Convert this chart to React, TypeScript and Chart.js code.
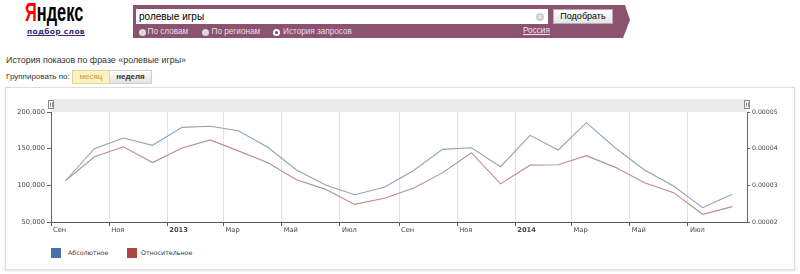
import React, { useEffect, useRef } from "react";
import { Chart, registerables } from "chart.js";

Chart.register(...registerables);

// ---- data ----
const months = [
  "2012-09", "2012-10", "2012-11", "2012-12",
  "2013-01", "2013-02", "2013-03", "2013-04", "2013-05", "2013-06", "2013-07", "2013-08",
  "2013-09", "2013-10", "2013-11", "2013-12",
  "2014-01", "2014-02", "2014-03", "2014-04", "2014-05", "2014-06", "2014-07", "2014-08",
];
const absoluteValues = [
  105900, 150000, 164500, 154600,
  179100, 180500, 174500, 152300, 120900, 100500, 87200, 97300,
  120000, 149100, 151300, 125400,
  168200, 148200, 185400, 150900, 120900, 99100, 69500, 87800,
];
const relativeValues = [
  3.12e-5, 3.78e-5, 4.05e-5, 3.62e-5,
  4.02e-5, 4.24e-5, 3.94e-5, 3.62e-5, 3.15e-5, 2.89e-5, 2.48e-5, 2.65e-5,
  2.92e-5, 3.34e-5, 3.89e-5, 3.04e-5,
  3.55e-5, 3.56e-5, 3.81e-5, 3.49e-5, 3.07e-5, 2.80e-5, 2.21e-5, 2.42e-5,
];
const tickMonths = [
  "2012-09", "2012-11", "2013-01", "2013-03", "2013-05", "2013-07",
  "2013-09", "2013-11", "2014-01", "2014-03", "2014-05", "2014-07",
];
const tickLabels = ["Сен", "Ноя", "2013", "Мар", "Май", "Июл", "Сен", "Ноя", "2014", "Мар", "Май", "Июл"];
const rangeStart = "2012-09";
const rangeEnd = "2014-09";
const leftTicks = [50000, 100000, 150000, 200000];
const rightTicks = [0.00002, 0.00003, 0.00004, 0.00005];
const seriesNames = ["Абсолютное", "Относительное"];

const DAY = 86400000;
function monthStart(m: string) {
  const [y, mo] = m.split("-").map(Number);
  return Date.UTC(y, mo - 1, 1);
}
function monthEnd(m: string) {
  const [y, mo] = m.split("-").map(Number);
  return Date.UTC(y, mo, 1);
}
const t0 = monthStart(rangeStart);
const dayOf = (t: number) => (t - t0) / DAY;
const midDays = months.map((m) => dayOf((monthStart(m) + monthEnd(m)) / 2));
const tickDays = tickMonths.map((m) => dayOf(monthStart(m)));
const maxDay = dayOf(monthStart(rangeEnd));

const FONT = "'DejaVu Sans', Verdana, sans-serif";
const ARIAL = "'Liberation Sans', Arial, sans-serif";

const navigatorPlugin = {
  id: "navigatorBand",
  beforeDraw(chart: any) {
    const { ctx, chartArea } = chart;
    const { left, right, top } = chartArea;
    ctx.save();
    ctx.fillStyle = "#ebebeb";
    ctx.fillRect(left, top - 13, right - left, 13);
    const handle = (x: number) => {
      ctx.fillStyle = "#f8f8f8";
      ctx.strokeStyle = "#8a8a8a";
      ctx.lineWidth = 1;
      ctx.fillRect(Math.round(x) - 2.5, top - 11.5, 5, 8);
      ctx.strokeRect(Math.round(x) - 2.5, top - 11.5, 5, 8);
      ctx.beginPath();
      ctx.moveTo(Math.round(x) - 0.5, top - 9.5);
      ctx.lineTo(Math.round(x) - 0.5, top - 5.5);
      ctx.moveTo(Math.round(x) + 1.5, top - 9.5);
      ctx.lineTo(Math.round(x) + 1.5, top - 5.5);
      ctx.stroke();
    };
    handle(left);
    handle(right);
    ctx.restore();
  },
};

function WordstatChart() {
  const ref = useRef<HTMLCanvasElement | null>(null);
  useEffect(() => {
    if (!ref.current) return;
    const chart = new Chart(ref.current, {
      type: "line",
      data: {
        datasets: [
          {
            label: seriesNames[0],
            data: midDays.map((x, i) => ({ x, y: absoluteValues[i] })),
            borderColor: "#8fa3bb",
            borderWidth: 1.1,
            pointRadius: 0,
            tension: 0,
            yAxisID: "y",
          },
          {
            label: seriesNames[1],
            data: midDays.map((x, i) => ({ x, y: relativeValues[i] })),
            borderColor: "#b98f90",
            borderWidth: 1.1,
            pointRadius: 0,
            tension: 0,
            yAxisID: "y1",
          },
        ],
      },
      options: {
        responsive: false,
        animation: false,
        events: [],
        layout: { padding: { top: 26, left: 0, right: 0, bottom: 0 } },
        plugins: { legend: { display: false }, tooltip: { enabled: false } },
        scales: {
          x: {
            type: "linear",
            min: 0,
            max: maxDay,
            afterBuildTicks: (scale: any) => {
              scale.ticks = tickDays.map((v) => ({ value: v }));
            },
            afterFit: (scale: any) => {
              scale.height = 16;
            },
            grid: {
              color: "#e2e2e2",
              tickColor: "#555",
              tickLength: 4,
              drawOnChartArea: true,
            },
            border: { color: "#555", width: 1 },
            ticks: {
              autoSkip: false,
              maxRotation: 0,
              align: "start",
              labelOffset: 2,
              padding: 0,
              color: "#444",
              font: (ctx: any) => ({
                family: FONT,
                size: 6.7,
                weight: /^\d{4}$/.test(ctx.tick?.label ?? "") ? "bold" : "normal",
              }),
              callback: (_v: any, i: number) => tickLabels[i],
            },
          },
          y: {
            position: "left",
            min: leftTicks[0],
            max: leftTicks[leftTicks.length - 1],
            afterBuildTicks: (scale: any) => {
              scale.ticks = leftTicks.map((v) => ({ value: v }));
            },
            afterFit: (scale: any) => {
              scale.width = 51;
            },
            grid: { drawOnChartArea: false, tickLength: 4, tickColor: "#666" },
            border: { color: "#666", width: 1 },
            ticks: {
              padding: 2,
              color: "#444",
              font: { family: FONT, size: 6.7 },
              callback: (v: any) => Number(v).toLocaleString("en-US"),
            },
          },
          y1: {
            position: "right",
            min: rightTicks[0],
            max: rightTicks[rightTicks.length - 1],
            afterBuildTicks: (scale: any) => {
              scale.ticks = rightTicks.map((v) => ({ value: v }));
            },
            afterFit: (scale: any) => {
              scale.width = 53;
            },
            grid: { drawOnChartArea: false, tickLength: 3, tickColor: "#666" },
            border: { color: "#666", width: 1 },
            ticks: {
              padding: 2,
              color: "#444",
              font: { family: FONT, size: 6.2 },
              callback: (v: any) => Number(v).toFixed(5),
            },
          },
        },
      },
      plugins: [navigatorPlugin],
    } as any);
    return () => chart.destroy();
  }, []);
  return (
    <canvas
      ref={ref}
      width={800}
      height={152}
      style={{ position: "absolute", left: 0, top: 86, width: 800, height: 152, display: "block" }}
    />
  );
}

const abs = (o: React.CSSProperties): React.CSSProperties => ({ position: "absolute", ...o });

function Radio({ x, selected }: { x: number; selected?: boolean }) {
  return (
    <div
      style={abs({
        left: x - 3.5,
        top: 28.5,
        width: 7,
        height: 7,
        borderRadius: "50%",
        background: selected ? "#ffffff" : "#dcdcdc",
        boxSizing: "border-box",
      })}
    >
      {selected && (
        <div style={abs({ left: 2, top: 2, width: 3, height: 3, borderRadius: "50%", background: "#555" })} />
      )}
    </div>
  );
}

export default function App() {
  return (
    <div style={abs({ left: 0, top: 0, width: 800, height: 274, overflow: "hidden", background: "#fff" })}>
      {/* logo */}
      <div
        style={abs({
          left: 25,
          top: 0,
          fontFamily: ARIAL,
          fontSize: 25,
          fontWeight: "bold",
          lineHeight: "25px",
          color: "#000",
          whiteSpace: "nowrap",
          transform: "scaleX(0.655)",
          transformOrigin: "left top",
        })}
      >
        <span style={{ color: "#f00" }}>Я</span>ндекс
      </div>
      <div
        style={abs({
          left: 27,
          top: 27,
          fontFamily: FONT,
          fontWeight: "bold",
          fontSize: 7.5,
          lineHeight: "10px",
          color: "#3a2d7a",
          textDecoration: "underline",
          letterSpacing: 0.3,
          whiteSpace: "nowrap",
        })}
      >
        подбор слов
      </div>

      {/* search band */}
      <div
        style={abs({
          left: 133,
          top: 5,
          width: 497,
          height: 33,
          background: "#8c5370",
          clipPath: "polygon(0 0, 492px 0, 497px 15px, 490px 33px, 0 33px)",
        })}
      />
      <div style={abs({ left: 136, top: 9, width: 412, height: 15, background: "#fff" })} />
      <div
        style={abs({
          left: 139,
          top: 9,
          fontFamily: ARIAL,
          fontSize: 10,
          lineHeight: "15px",
          color: "#000",
          whiteSpace: "nowrap",
        })}
      >
        ролевые игры
      </div>
      <div
        style={abs({
          left: 536,
          top: 12.5,
          width: 8,
          height: 8,
          borderRadius: "50%",
          background: "#cfcfcf",
          color: "#fff",
          fontFamily: ARIAL,
          fontSize: 7,
          lineHeight: "8px",
          textAlign: "center",
        })}
      >
        ×
      </div>
      <div
        style={abs({
          left: 553,
          top: 9,
          width: 60,
          height: 15,
          boxSizing: "border-box",
          border: "1px solid #b8aab2",
          background: "linear-gradient(#ffffff, #e4e4e4)",
          fontFamily: ARIAL,
          fontSize: 9,
          lineHeight: "13px",
          textAlign: "center",
          color: "#000",
        })}
      >
        Подобрать
      </div>
      <Radio x={142} />
      <Radio x={205.5} />
      <Radio x={276.5} selected />
      {[
        { x: 147.5, t: "По словам" },
        { x: 211.5, t: "По регионам" },
        { x: 283, t: "История запросов" },
      ].map((r) => (
        <div
          key={r.t}
          style={abs({
            left: r.x,
            top: 27,
            fontFamily: ARIAL,
            fontSize: 8.2,
            lineHeight: "10px",
            color: "#e9dfe5",
            whiteSpace: "nowrap",
          })}
        >
          {r.t}
        </div>
      ))}
      <div
        style={abs({
          left: 523,
          top: 26,
          fontFamily: ARIAL,
          fontSize: 8.2,
          lineHeight: "10px",
          color: "#f0e8ec",
          textDecoration: "underline",
          whiteSpace: "nowrap",
        })}
      >
        Россия
      </div>

      {/* title */}
      <div
        style={abs({
          left: 6,
          top: 54,
          fontFamily: ARIAL,
          fontSize: 8.9,
          lineHeight: "12px",
          color: "#333",
          whiteSpace: "nowrap",
        })}
      >
        История показов по фразе «ролевые игры»
      </div>
      <div
        style={abs({
          left: 6,
          top: 72,
          fontFamily: ARIAL,
          fontSize: 8,
          lineHeight: "10px",
          color: "#333",
          whiteSpace: "nowrap",
        })}
      >
        Группировать по:
      </div>
      <div
        style={abs({
          left: 72,
          top: 70,
          width: 38,
          height: 14,
          boxSizing: "border-box",
          border: "1px solid #e4d59a",
          background: "#fdf1bd",
          fontFamily: ARIAL,
          fontSize: 8,
          lineHeight: "12px",
          textAlign: "center",
          color: "#b8993f",
        })}
      >
        месяц
      </div>
      <div
        style={abs({
          left: 110,
          top: 70,
          width: 42,
          height: 14,
          boxSizing: "border-box",
          border: "1px solid #cfcfcf",
          borderLeft: "none",
          background: "linear-gradient(#ffffff, #e2e2e2)",
          fontFamily: ARIAL,
          fontSize: 8,
          fontWeight: "bold",
          lineHeight: "12px",
          textAlign: "center",
          color: "#333",
        })}
      >
        неделя
      </div>

      {/* chart box */}
      <div
        style={abs({
          left: 5,
          top: 87,
          width: 790,
          height: 183,
          boxSizing: "border-box",
          border: "1px solid #dedede",
          boxShadow: "0 1px 2px rgba(0,0,0,0.12)",
        })}
      />
      <WordstatChart />

      {/* legend */}
      <div style={abs({ left: 51, top: 248, width: 10, height: 10, background: "#4572a7" })} />
      <div
        style={abs({
          left: 68,
          top: 248,
          fontFamily: FONT,
          fontSize: 6.3,
          lineHeight: "10px",
          color: "#333",
          whiteSpace: "nowrap",
        })}
      >
        {seriesNames[0]}
      </div>
      <div style={abs({ left: 127, top: 248, width: 10, height: 10, background: "#aa4643" })} />
      <div
        style={abs({
          left: 141,
          top: 248,
          fontFamily: FONT,
          fontSize: 6.3,
          lineHeight: "10px",
          color: "#333",
          whiteSpace: "nowrap",
        })}
      >
        {seriesNames[1]}
      </div>
    </div>
  );
}
